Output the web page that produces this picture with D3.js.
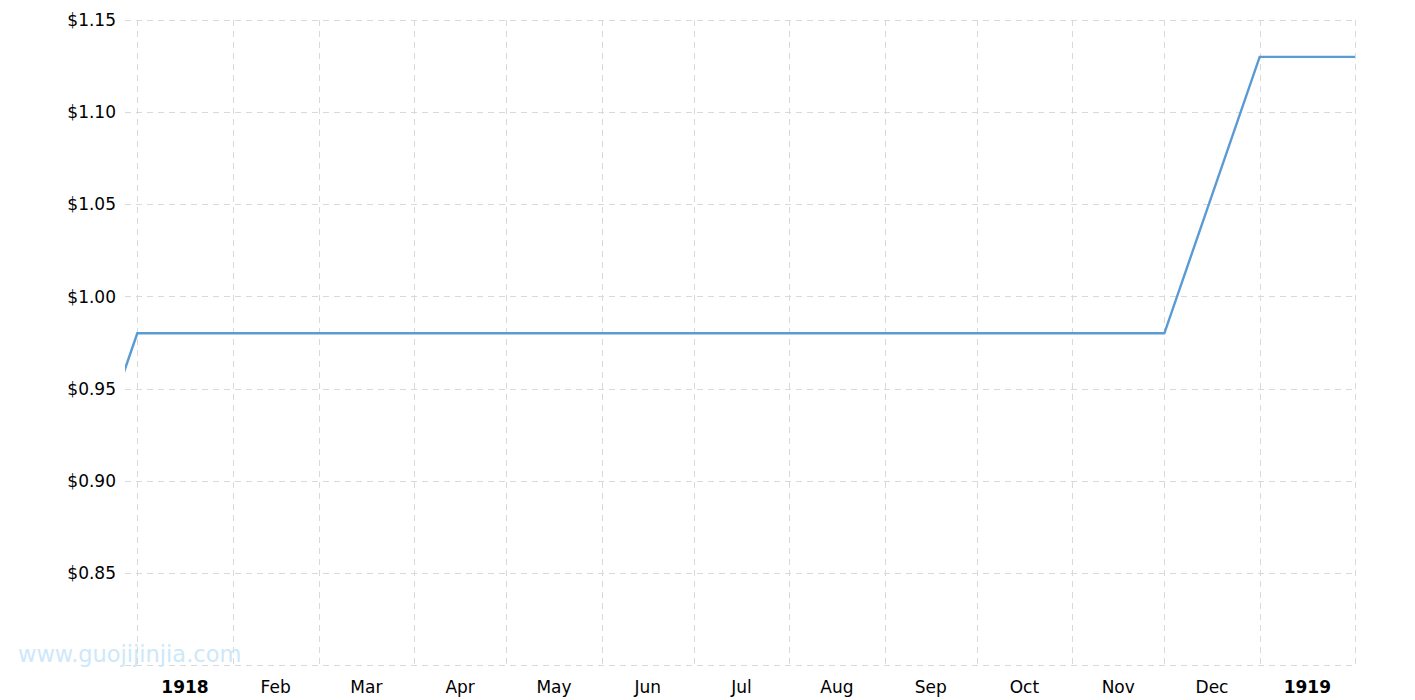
<!DOCTYPE html>
<html>
<head>
<meta charset="utf-8">
<script src="https://cdn.jsdelivr.net/npm/d3@7/dist/d3.min.js"></script>
<style>
  html, body { margin: 0; padding: 0; background: #fff; }
  svg { display: block; }
  text { font-family: "DejaVu Sans", Verdana, sans-serif; }
</style>
</head>
<body>
<svg id="chart" width="1415" height="700"></svg>
<script>
// ---- data ----
const dates = ["1917-12-01","1918-01-01","1918-02-01","1918-03-01","1918-04-01","1918-05-01","1918-06-01",
               "1918-07-01","1918-08-01","1918-09-01","1918-10-01","1918-11-01","1918-12-01","1919-01-01","1919-02-01"];
const prices = [0.83, 0.98, 0.98, 0.98, 0.98, 0.98, 0.98, 0.98, 0.98, 0.98, 0.98, 0.98, 0.98, 1.13, 1.13];
const yTicks = [0.80, 0.85, 0.90, 0.95, 1.00, 1.05, 1.10, 1.15];
const yTickLabels = ["", "$0.85", "$0.90", "$0.95", "$1.00", "$1.05", "$1.10", "$1.15"];
const xLabelMonths = ["1918-01-01","1918-02-01","1918-03-01","1918-04-01","1918-05-01","1918-06-01","1918-07-01",
                      "1918-08-01","1918-09-01","1918-10-01","1918-11-01","1918-12-01","1919-01-01"];
const xLabels = ["1918","Feb","Mar","Apr","May","Jun","Jul","Aug","Sep","Oct","Nov","Dec","1919"];
const xDomain = ["1917-12-28", "1919-02-01"];
const yDomain = [0.80, 1.15];

(function () {
const parse = d3.utcParse("%Y-%m-%d");
const data = dates.map((d, i) => ({ date: parse(d), value: prices[i] }));

const svg = d3.select("#chart");
const mLeft = 125, mRight = 1355, mTop = 20, mBottom = 665;

const x = d3.scaleUtc().domain(xDomain.map(parse)).range([mLeft, mRight]);
const y = d3.scaleLinear().domain(yDomain).range([mBottom, mTop]);

svg.append("defs").append("clipPath").attr("id", "clip")
  .append("rect").attr("x", mLeft).attr("y", mTop - 5).attr("width", mRight - mLeft).attr("height", mBottom - mTop + 10);

const gridColor = "#d9d9d9";
svg.append("g").selectAll("line").data(yTicks).join("line")
  .attr("x1", mLeft).attr("x2", mRight)
  .attr("y1", d => Math.round(y(d)) + 0.5).attr("y2", d => Math.round(y(d)) + 0.5)
  .attr("stroke", gridColor).attr("stroke-width", 1).attr("stroke-dasharray", "6,5");

const monthTicks = d3.utcMonth.range(parse("1918-01-01"), d3.utcDay.offset(parse("1919-02-01"), 1));
svg.append("g").selectAll("line").data(monthTicks).join("line")
  .attr("x1", d => Math.round(x(d)) + 0.5).attr("x2", d => Math.round(x(d)) + 0.5)
  .attr("y1", mTop).attr("y2", mBottom)
  .attr("stroke", gridColor).attr("stroke-width", 1).attr("stroke-dasharray", "6,5");

svg.append("g").selectAll("text").data(yTicks).join("text")
  .attr("x", 116).attr("y", d => y(d)).attr("dy", "0.36em")
  .attr("text-anchor", "end").attr("font-size", 17).attr("fill", "#000")
  .text((d, i) => yTickLabels[i]);

svg.append("g").selectAll("text").data(xLabelMonths).join("text")
  .attr("x", d => { const s = parse(d); const e = d3.utcMonth.offset(s, 1); return (x(s) + x(e)) / 2; })
  .attr("y", 693)
  .attr("text-anchor", "middle").attr("font-size", 17).attr("fill", "#000")
  .attr("font-weight", (d, i) => /^\d{4}$/.test(xLabels[i]) ? "bold" : "normal")
  .text((d, i) => xLabels[i]);

svg.append("text").attr("x", 18).attr("y", 662)
  .attr("font-size", 22.5).attr("fill", "#cde8fa")
  .text("www.guojijinjia.com");

const line = d3.line().x(d => x(d.date)).y(d => y(d.value));
svg.append("path").datum(data)
  .attr("clip-path", "url(#clip)")
  .attr("fill", "none").attr("stroke", "#5b9bd5").attr("stroke-width", 2.4)
  .attr("d", line);
})();
</script>
</body>
</html>
